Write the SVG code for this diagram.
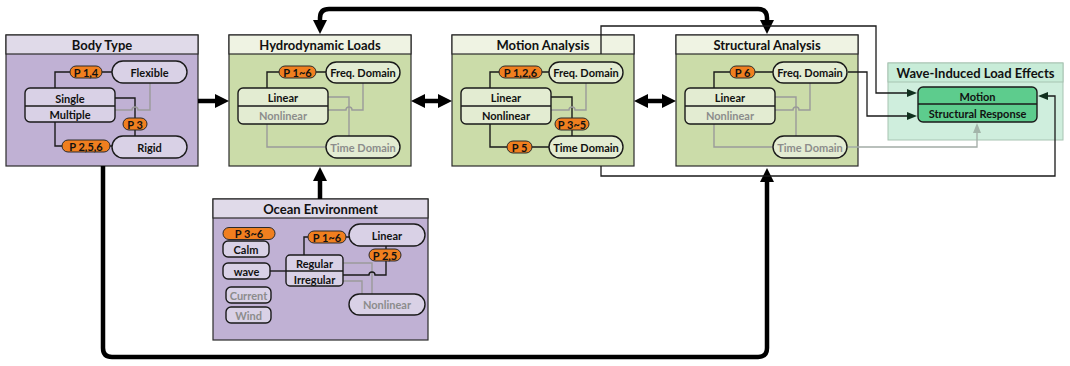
<svg xmlns="http://www.w3.org/2000/svg" width="1070" height="366" viewBox="0 0 1070 366">
  <defs>
    <style>
      text { font-family: Lato, "Liberation Sans", sans-serif; font-weight: bold; text-anchor: middle; dominant-baseline: central; fill: #111; }
      .h { font-size: 13px; }
      .n { font-size: 11px; }
      .p { font-size: 11px; }
      .dim { fill: #8c8c8c; }
      .pbody { fill: #c0b1d4; stroke: #2b2b2b; stroke-width: 1.2; }
      .phdr { fill: #e0dae9; stroke: #2b2b2b; stroke-width: 1.2; }
      .gbody { fill: #cbdca9; stroke: #2b2b2b; stroke-width: 1.2; }
      .ghdr { fill: #eff3e3; stroke: #2b2b2b; stroke-width: 1.2; }
      .ppill { fill: #d9d1e6; stroke: #1a1a1a; stroke-width: 1.4; }
      .gpill { fill: #e3ecd2; stroke: #1a1a1a; stroke-width: 1.4; }
      .opill { fill: #f07f1f; stroke: #2a2a2a; stroke-width: 1; }
      .div { stroke: #1a1a1a; stroke-width: 1.4; }
      .lk { fill: none; stroke: #1a1a1a; stroke-width: 1.4; }
      .lg { fill: none; stroke: #9a9a9a; stroke-width: 1.4; }
      .thick { fill: none; stroke: #000; stroke-width: 4.5; }
      .thin { fill: none; stroke: #1a1a1a; stroke-width: 1.3; }
      .thing { fill: none; stroke: #a3aca6; stroke-width: 1.3; }
    </style>
    <marker id="big" viewBox="0 0 14 14" refX="3" refY="7" markerWidth="14" markerHeight="14" markerUnits="userSpaceOnUse" orient="auto-start-reverse">
      <path d="M0,0 L14,7 L0,14 z" fill="#000"/>
    </marker>
    <marker id="small" viewBox="0 0 10 8" refX="1" refY="4" markerWidth="10" markerHeight="8" markerUnits="userSpaceOnUse" orient="auto">
      <path d="M0,0 L10,4 L0,8 z" fill="#10301e"/>
    </marker>
    <marker id="smallg" viewBox="0 0 10 8" refX="1" refY="4" markerWidth="10" markerHeight="8" markerUnits="userSpaceOnUse" orient="auto">
      <path d="M0,0 L10,4 L0,8 z" fill="#a3b5aa"/>
    </marker>
  </defs>

  <rect width="1070" height="366" fill="#fff"/>

  <!-- Body Type -->
  <g id="body-type">
    <rect class="pbody" x="6" y="35" width="192" height="131"/>
    <rect class="phdr" x="6" y="35" width="192" height="19"/>
    <text class="h" x="102" y="45">Body Type</text>
    <path class="lk" d="M55,88 V72 H112"/>
    <path class="lk" d="M55,122 V146 H112"/>
    <path class="lk" d="M115,98 H135 V136"/>
    <path class="lg" d="M150,83 V110 H138 A3,3 0 0 0 132,110 H115"/>
    <rect class="ppill" x="25" y="88" width="90" height="34" rx="5"/>
    <line class="div" x1="25" y1="106" x2="115" y2="106"/>
    <text class="n" x="70" y="98">Single</text>
    <text class="n" x="70" y="114">Multiple</text>
    <rect class="ppill" x="112" y="61" width="75" height="22" rx="11"/>
    <text class="n" x="149.5" y="72">Flexible</text>
    <rect class="ppill" x="112" y="136" width="75" height="22" rx="11"/>
    <text class="n" x="149.5" y="147">Rigid</text>
    <rect class="opill" x="70" y="66" width="32" height="12" rx="6"/>
    <text class="p" x="86" y="72">P 1,4</text>
    <rect class="opill" x="62" y="140" width="48" height="12" rx="6"/>
    <text class="p" x="86" y="146">P 2,5,6</text>
    <rect class="opill" x="123" y="118" width="24" height="12" rx="6"/>
    <text class="p" x="135" y="124">P 3</text>
  </g>

  <!-- Hydrodynamic Loads -->
  <g id="hydrodynamic-loads">
    <rect class="gbody" x="229" y="35" width="182" height="131"/>
    <rect class="ghdr" x="229" y="35" width="182" height="19"/>
    <text class="h" x="320" y="45">Hydrodynamic Loads</text>
    <path class="lk" d="M267,88 V72 H326"/>
    <path class="lg" d="M328,97 H349 V136"/>
    <path class="lg" d="M328,110 H346 A3,3 0 0 1 352,110 H363 V83"/>
    <path class="lg" d="M267,124 V147 H326"/>
    <rect class="gpill" x="238" y="88" width="90" height="36" rx="5"/>
    <line class="div" x1="238" y1="106" x2="328" y2="106"/>
    <text class="n" x="283" y="97.5">Linear</text>
    <text class="n dim" x="283" y="115">Nonlinear</text>
    <rect class="gpill" x="326" y="62" width="74" height="21" rx="10.5"/>
    <text class="n" x="363" y="72.5">Freq. Domain</text>
    <rect class="gpill" x="326" y="136" width="74" height="22" rx="11"/>
    <text class="n dim" x="363" y="147">Time Domain</text>
    <rect class="opill" x="279" y="66" width="37" height="12" rx="6"/>
    <text class="p" x="297.5" y="72">P 1~6</text>
  </g>

  <!-- Motion Analysis -->
  <g id="motion-analysis">
    <rect class="gbody" x="452" y="35" width="182" height="131"/>
    <rect class="ghdr" x="452" y="35" width="182" height="19"/>
    <line x1="601" y1="35" x2="601" y2="54" stroke="#1a1a1a" stroke-width="1.3"/>
    <text class="h" x="543" y="45">Motion Analysis</text>
    <path class="lk" d="M490,88 V72 H549"/>
    <path class="lk" d="M551,97 H572 V136"/>
    <path class="lg" d="M551,110 H569 A3,3 0 0 1 575,110 H586 V83"/>
    <path class="lk" d="M490,124 V147 H549"/>
    <rect class="gpill" x="461" y="88" width="90" height="36" rx="5"/>
    <line class="div" x1="461" y1="106" x2="551" y2="106"/>
    <text class="n" x="506" y="97.5">Linear</text>
    <text class="n" x="506" y="115">Nonlinear</text>
    <rect class="gpill" x="549" y="62" width="74" height="21" rx="10.5"/>
    <text class="n" x="586" y="72.5">Freq. Domain</text>
    <rect class="gpill" x="549" y="136" width="74" height="22" rx="11"/>
    <text class="n" x="586" y="147">Time Domain</text>
    <rect class="opill" x="499" y="66" width="43" height="12" rx="6"/>
    <text class="p" x="520.5" y="72">P 1,2,6</text>
    <rect class="opill" x="555" y="118" width="34" height="12" rx="6"/>
    <text class="p" x="572" y="124">P 3~5</text>
    <rect class="opill" x="507" y="141" width="25" height="12" rx="6"/>
    <text class="p" x="519.5" y="147">P 5</text>
  </g>

  <!-- Structural Analysis -->
  <g id="structural-analysis">
    <rect class="gbody" x="676" y="35" width="182" height="131"/>
    <rect class="ghdr" x="676" y="35" width="182" height="19"/>
    <text class="h" x="767" y="45">Structural Analysis</text>
    <path class="lk" d="M714,88 V72 H773"/>
    <path class="lg" d="M775,97 H796 V136"/>
    <path class="lg" d="M775,110 H793 A3,3 0 0 1 799,110 H810 V83"/>
    <path class="lg" d="M714,124 V147 H773"/>
    <rect class="gpill" x="685" y="88" width="90" height="36" rx="5"/>
    <line class="div" x1="685" y1="106" x2="775" y2="106"/>
    <text class="n" x="730" y="97.5">Linear</text>
    <text class="n dim" x="730" y="115">Nonlinear</text>
    <rect class="gpill" x="773" y="62" width="74" height="21" rx="10.5"/>
    <text class="n" x="810" y="72.5">Freq. Domain</text>
    <rect class="gpill" x="773" y="136" width="74" height="22" rx="11"/>
    <text class="n dim" x="810" y="147">Time Domain</text>
    <rect class="opill" x="730" y="66" width="25" height="12" rx="6"/>
    <text class="p" x="742.5" y="72">P 6</text>
  </g>

  <!-- Wave-Induced Load Effects -->
  <g id="wave-induced-load-effects">
    <rect x="888" y="63" width="175" height="77" fill="#cfeedd" stroke="#a7c4b2" stroke-width="1"/>
    <rect x="888" y="63" width="175" height="19" fill="#c8ecd8" stroke="#a7c4b2" stroke-width="1"/>
    <text class="h" x="975.5" y="73" fill="#13261b">Wave-Induced Load Effects</text>
    <rect x="918" y="87" width="119" height="35" rx="5" fill="#5dcc8d" stroke="#1a1a1a" stroke-width="1.4"/>
    <line class="div" x1="918" y1="104" x2="1037" y2="104"/>
    <text class="n" x="977.5" y="96">Motion</text>
    <text class="n" x="977.5" y="113">Structural Response</text>
  </g>

  <!-- Ocean Environment -->
  <g id="ocean-environment">
    <rect class="pbody" x="213" y="199" width="215" height="141"/>
    <rect class="phdr" x="213" y="199" width="215" height="19"/>
    <text class="h" x="320.5" y="209">Ocean Environment</text>
    <path class="lk" d="M270,271 H286"/>
    <path class="lk" d="M304,255 V237 H349"/>
    <path class="lg" d="M343,263 H372 V294"/>
    <path class="lg" d="M343,281 H362 V294"/>
    <path class="lk" d="M343,275 H369 A3,3 0 0 1 375,275 H386 V246"/>
    <rect class="opill" x="223" y="227.5" width="52" height="12" rx="6"/>
    <text class="p" x="249" y="233.5">P 3~6</text>
    <rect class="ppill" x="223" y="241" width="46" height="16" rx="5"/>
    <text class="n" x="246" y="249">Calm</text>
    <rect class="ppill" x="223" y="263" width="47" height="16" rx="5"/>
    <text class="n" x="246.5" y="271">wave</text>
    <rect class="ppill" x="226" y="287" width="45" height="16" rx="5"/>
    <text class="n dim" x="248.5" y="295">Current</text>
    <rect class="ppill" x="226" y="307" width="45" height="16" rx="5"/>
    <text class="n dim" x="248.5" y="315">Wind</text>
    <rect class="ppill" x="286" y="255" width="57" height="31" rx="4"/>
    <line class="div" x1="286" y1="271" x2="343" y2="271"/>
    <text class="n" x="314.5" y="263">Regular</text>
    <text class="n" x="314.5" y="279">Irregular</text>
    <rect class="ppill" x="349" y="224" width="76" height="22" rx="11"/>
    <text class="n" x="387" y="235">Linear</text>
    <rect class="ppill" x="349" y="294" width="76" height="21" rx="10.5"/>
    <text class="n dim" x="387" y="304.5">Nonlinear</text>
    <rect class="opill" x="308" y="231" width="38" height="12" rx="6"/>
    <text class="p" x="327" y="237">P 1~6</text>
    <rect class="opill" x="369" y="249" width="32" height="12" rx="6"/>
    <text class="p" x="385" y="255">P 2,5</text>
  </g>

  <!-- flow connectors -->
  <g id="connectors">
    <path class="thick" d="M320,23 V18 Q320,9 329,9 H758 Q767,9 767,18 V23" marker-start="url(#big)" marker-end="url(#big)"/>
    <path class="thick" d="M103,166 V348 Q103,357 112,357 H758 Q767,357 767,348 V179" marker-end="url(#big)"/>
    <path class="thick" d="M198,101 H218" marker-end="url(#big)"/>
    <path class="thick" d="M422,101 H441" marker-start="url(#big)" marker-end="url(#big)"/>
    <path class="thick" d="M645,101 H665" marker-start="url(#big)" marker-end="url(#big)"/>
    <path class="thick" d="M320,199 V178" marker-end="url(#big)"/>
    <path class="thin" d="M601,35 V26 H876 V93 H908" marker-end="url(#small)"/>
    <path class="thin" d="M601,166 V176 H1055 V96 H1047" marker-end="url(#small)"/>
    <path class="thin" d="M848,72 H867 V116 H908" marker-end="url(#small)"/>
    <path class="thing" d="M848,147 H977 V132" marker-end="url(#smallg)"/>
  </g>
</svg>
